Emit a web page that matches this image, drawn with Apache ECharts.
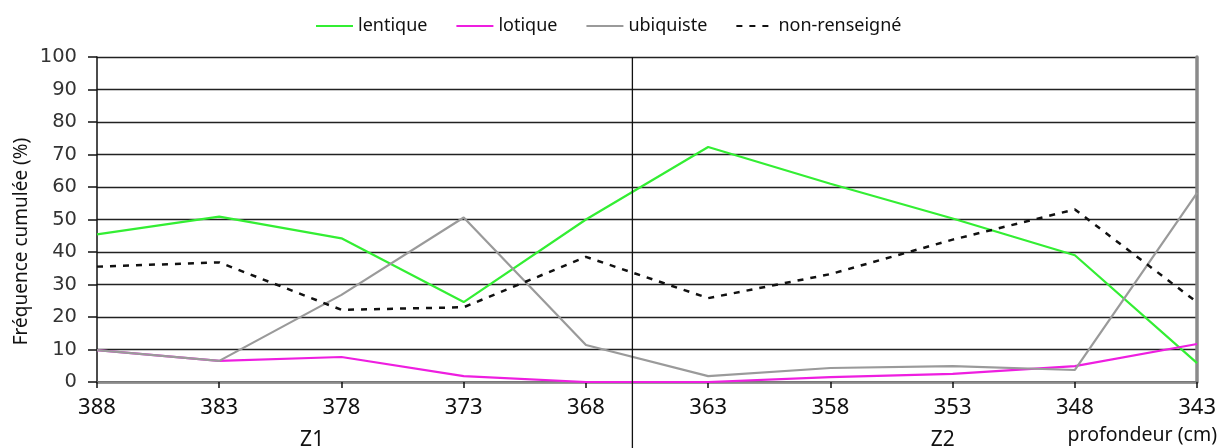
<!DOCTYPE html>
<html>
<head>
<meta charset="utf-8">
<script src="https://cdn.jsdelivr.net/npm/echarts@6/dist/echarts.min.js"></script>
<style>
html,body{margin:0;padding:0;background:#fff;}
#chart{width:1219px;height:448px;}
</style>
</head>
<body>
<div id="chart"></div>
<script>
// ---- data ----
const depths = [388, 383, 378, 373, 368, 363, 358, 353, 348, 343];
const lentique = [45.4, 50.9, 44.2, 24.6, 50, 72.3, 61, 50.3, 39, 5.8];
const lotique = [9.8, 6.5, 7.7, 1.8, 0, 0, 1.5, 2.5, 4.9, 11.7];
const ubiquiste = [9.8, 6.5, 26.8, 50.6, 11.4, 1.8, 4.3, 4.9, 3.7, 58.2];
const nonRenseigne = [35.5, 36.8, 22.2, 23, 38.5, 25.8, 33.2, 43.8, 53.1, 24.5];
const seriesNames = ['lentique', 'lotique', 'ubiquiste', 'non-renseigné'];
const zoneLabels = ['Z1', 'Z2'];
const zoneCenters = [379.2, 353.4];
const zoneDivider = 366.1;
const yName = 'Fréquence cumulée (%)';
const xName = 'profondeur (cm)';

const pairs = arr => depths.map((d, i) => [d, arr[i]]);

const chart = echarts.init(document.getElementById('chart'), null, {renderer: 'canvas'});

const baseFont = '"Noto Sans", "Open Sans", sans-serif';

function lineSeries(name, data, color, width, type) {
  return {
    name: name, type: 'line', data: pairs(data),
    xAxisIndex: 0, yAxisIndex: 0,
    symbol: 'none', showSymbol: false, smooth: false,
    lineStyle: {color: color, width: width, type: type || 'solid'},
    itemStyle: {color: color},
    emphasis: {disabled: true},
    z: 3
  };
}

const option = {
  animation: false,
  backgroundColor: '#fff',
  textStyle: {fontFamily: baseFont},
  legend: {
    top: 12, left: 310,
    itemWidth: 37, itemHeight: 14, itemGap: 28,
    itemStyle: {opacity: 0},
    textStyle: {fontSize: 18, color: '#111', fontFamily: baseFont},
    data: seriesNames
  },
  grid: {left: 97, right: 19, top: 57, bottom: 66, containLabel: false},
  xAxis: [{
    type: 'value', min: 343, max: 388, interval: 5, inverse: true,
    axisLine: {show: true, onZero: false, lineStyle: {color: '#111', width: 1.5}},
    axisTick: {show: true, length: 6, lineStyle: {color: '#111', width: 1.5}},
    axisLabel: {fontSize: 22, color: '#111', margin: 15, fontFamily: baseFont},
    splitLine: {show: false}
  }, {
    type: 'value', min: 343, max: 388, inverse: true, position: 'top',
    axisLine: {show: true, lineStyle: {color: '#8a8a8a', width: 2.5}},
    axisTick: {show: false}, axisLabel: {show: false}, splitLine: {show: false}
  }],
  yAxis: [{
    type: 'value', min: 0, max: 100, interval: 10,
    axisLine: {show: true, lineStyle: {color: '#111', width: 1.5}},
    axisTick: {show: true, length: 9, lineStyle: {color: '#111', width: 1.5}},
    axisLabel: {fontSize: 19.5, color: '#333', margin: 20, fontFamily: '"DejaVu Sans", Verdana, sans-serif'},
    splitLine: {show: true, lineStyle: {color: '#222', width: 1.3}}
  }, {
    type: 'value', min: 0, max: 100, position: 'right',
    axisLine: {show: true, lineStyle: {color: '#8a8a8a', width: 3.5}},
    axisTick: {show: false}, axisLabel: {show: false}, splitLine: {show: false}
  }],
  series: [
    lineSeries(seriesNames[0], lentique, '#33ee33', 2.2),
    lineSeries(seriesNames[1], lotique, '#ee1ee0', 2.2),
    lineSeries(seriesNames[2], ubiquiste, '#9a9a9a', 2.2),
    lineSeries(seriesNames[3], nonRenseigne, '#111', 2.5, [6, 7])
  ]
};
chart.setOption(option);

// positions derived from the library's scales
const divX = chart.convertToPixel({xAxisIndex: 0}, zoneDivider);
const topY = chart.convertToPixel({yAxisIndex: 0}, 100);
const botY = chart.convertToPixel({yAxisIndex: 0}, 0);
const midY = chart.convertToPixel({yAxisIndex: 0}, 50);
const z1X = chart.convertToPixel({xAxisIndex: 0}, zoneCenters[0]);
const z2X = chart.convertToPixel({xAxisIndex: 0}, zoneCenters[1]);

chart.setOption({
  graphic: [
    {type: 'line', silent: true, z: 10,
     shape: {x1: divX, y1: topY, x2: divX, y2: 448},
     style: {stroke: '#111', lineWidth: 1.3}},
    {type: 'text', silent: true, x: z1X, y: botY + 58,
     style: {text: zoneLabels[0], font: '21px "Noto Sans", sans-serif', fill: '#111', align: 'center', verticalAlign: 'middle'}},
    {type: 'text', silent: true, x: z2X, y: botY + 58,
     style: {text: zoneLabels[1], font: '21px "Noto Sans", sans-serif', fill: '#111', align: 'center', verticalAlign: 'middle'}},
    {type: 'text', silent: true, x: 1217, y: botY + 53,
     style: {text: xName, font: '19.5px "Noto Sans", sans-serif', fill: '#111', align: 'right', verticalAlign: 'middle'}},
    {type: 'text', silent: true, x: 22, y: midY + 22, rotation: Math.PI / 2,
     style: {text: yName, font: '19px "Noto Sans", sans-serif', fill: '#111', align: 'center', verticalAlign: 'middle'}}
  ]
});
</script>
</body>
</html>
